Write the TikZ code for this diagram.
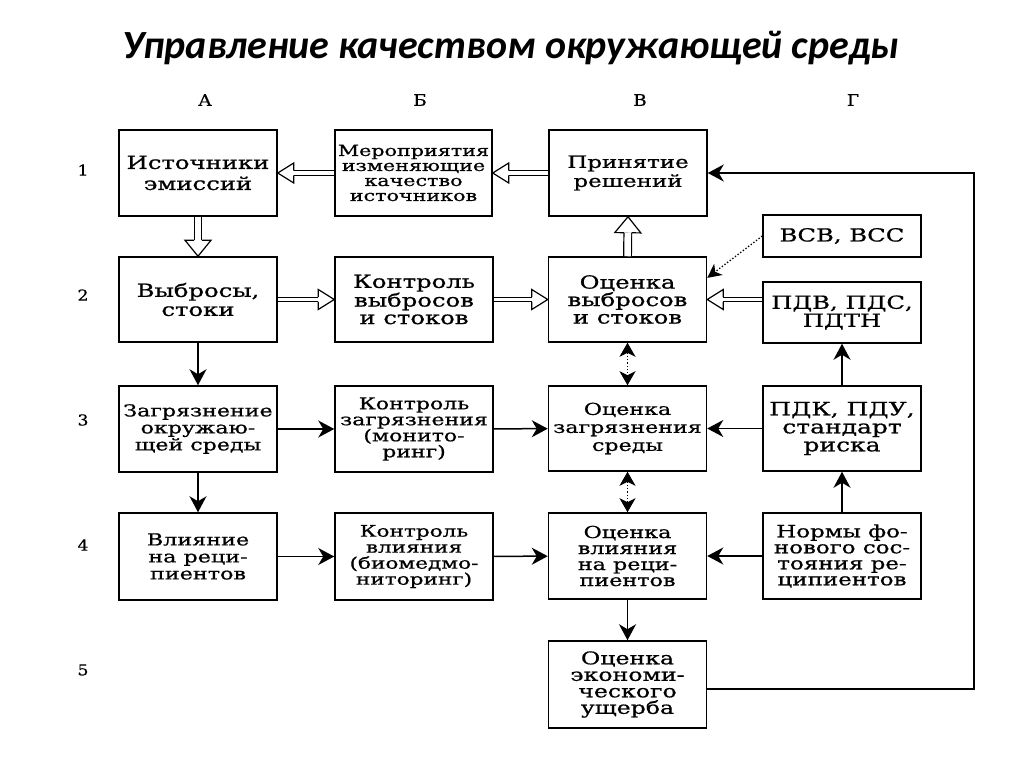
\documentclass[tikz,border=0pt]{standalone}
\usepackage{fontspec}
\newfontfamily\boxfont[FakeStretch=1.35,FakeBold=0.8]{DejaVu Serif}
\newfontfamily\lblfont[FakeStretch=1.15,FakeBold=0.5]{DejaVu Serif}
\newfontfamily\titlefont{Carlito}
\usetikzlibrary{arrows.meta,calc}
\newcommand\hollow[5]{%
  \coordinate (hT) at (#2);
  \coordinate (hB) at ($(hT)!16pt!(#1)$);
  \draw[hshaft, double distance=#3] (#1) -- (hB);
  \draw[hhead] ($(hB)!#4!90:(hT)$) -- ($(hB)!#5!90:(hT)$) -- (hT)
     -- ($(hB)!#5!-90:(hT)$) -- ($(hB)!#4!-90:(hT)$);}
\begin{document}
\begin{tikzpicture}[x=1pt,y=-1pt,
  box/.style={draw, line width=1.5pt, minimum width=158pt, minimum height=86pt,
    align=center, inner sep=1pt, font=\boxfont\fontsize{17}{17}\selectfont},
  hshaft/.style={line width=1.2pt, double},
  hhead/.style={line width=1.2pt, line join=miter},
  sarr/.style={line width=1.5pt, -{Stealth[length=16pt,width=17pt,inset=5pt]}},
  darr/.style={line width=1.3pt, dotted, {Stealth[length=14pt,width=16pt,inset=4pt]}-{Stealth[length=14pt,width=16pt,inset=4pt]}},
  dotarr/.style={line width=1.3pt, dotted, -{Stealth[length=14pt,width=14pt,inset=4pt]}},
  hdr/.style={font=\lblfont\fontsize{16}{16}\selectfont},
  num/.style={font=\lblfont\fontsize{15}{15}\selectfont}]
\useasboundingbox[fill=white] (0,0) rectangle (1024,767);

\node[font=\titlefont\bfseries\itshape\fontsize{40}{40}\selectfont] (title) at (511,48) {Управление качеством окружающей среды};

\node[hdr] (hA) at (205,100) {А};
\node[hdr] (hB0) at (420,100) {Б};
\node[hdr] (hV) at (640,100) {В};
\node[hdr] (hG) at (853,100) {Г};

\node[num] (n1) at (83,170) {1};
\node[num] (n2) at (83,295) {2};
\node[num] (n3) at (83,420) {3};
\node[num] (n4) at (83,545) {4};
\node[num] (n5) at (83,670) {5};

% row 1
\node[box, font=\boxfont\fontsize{18}{21}\selectfont] (A1) at (198,173) {Источники\\эмиссий};
\node[box, minimum width=157pt, font=\boxfont\fontsize{15.3}{15}\selectfont] (B1) at (413.5,173) {Мероприятия\\изменяющие\\качество\\источников};
\node[box, font=\boxfont\fontsize{17}{19}\selectfont] (V1) at (628,173) {Принятие\\решений};
\node[box, minimum height=42pt, font=\boxfont\fontsize{18}{18}\selectfont] (G1) at (842,236) {ВСВ, ВСС};

% row 2
\node[box, minimum height=85pt, font=\boxfont\fontsize{18}{19}\selectfont] (A2) at (198,299.5) {Выбросы,\\стоки};
\node[box, minimum height=85pt, font=\boxfont\fontsize{18}{17.5}\selectfont] (B2) at (414,299.5) {Контроль\\выбросов\\и стоков};
\node[box, minimum height=85pt, font=\boxfont\fontsize{18}{17.5}\selectfont] (V2) at (627.5,299.5) {Оценка\\выбросов\\и стоков};
\node[box, minimum height=61pt, font=\boxfont\fontsize{18}{18}\selectfont] (G2) at (842,312.5) {ПДВ, ПДС,\\ПДТН};

% row 3
\node[box, font=\boxfont\fontsize{16.4}{17}\selectfont] (A3) at (198,429) {Загрязнение\\окружаю-\\щей среды};
\node[box, font=\boxfont\fontsize{16.3}{16}\selectfont] (B3) at (414,429) {Контроль\\загрязнения\\(монито-\\ринг)};
\node[box, minimum height=85pt, font=\boxfont\fontsize{16.4}{18}\selectfont] (V3) at (627.5,428.5) {Оценка\\загрязнения\\среды};
\node[box, minimum height=85pt, font=\boxfont\fontsize{18.5}{18}\selectfont] (G3) at (842,428.5) {ПДК, ПДУ,\\стандарт\\риска};

% row 4
\node[box, minimum height=87pt, font=\boxfont\fontsize{16.5}{17}\selectfont] (A4) at (198,556.5) {Влияние\\на реци-\\пиентов};
\node[box, minimum height=87pt, font=\boxfont\fontsize{16}{16}\selectfont] (B4) at (414,556.5) {Контроль\\влияния\\(биомедмо-\\ниторинг)};
\node[box, font=\boxfont\fontsize{16.5}{16}\selectfont] (V4) at (627.5,556) {Оценка\\влияния\\на реци-\\пиентов};
\node[box, font=\boxfont\fontsize{17}{16}\selectfont] (G4) at (842,556) {Нормы фо-\\нового сос-\\тояния ре-\\ципиентов};

% row 5
\node[box, minimum height=87pt, font=\boxfont\fontsize{17.5}{16.5}\selectfont] (V5) at (627.5,684.5) {Оценка\\экономи-\\ческого\\ущерба};

\coordinate (fb) at (974,689);
\coordinate (g2w) at (G2.west |- V2.east);
\coordinate (v2d) at ($(V2.north east)!0.25!(V2.south east)$);

% hollow arrows
\hollow{A1.south}{A2.north}{6.5pt}{3.85pt}{13pt}
\hollow{B1.west}{A1.east}{3.5pt}{2.35pt}{10pt}
\hollow{V1.west}{B1.east}{3.5pt}{2.35pt}{10pt}
\hollow{A2.east}{B2.west}{3.5pt}{2.35pt}{10pt}
\hollow{B2.east}{V2.west}{3.5pt}{2.35pt}{10pt}
\hollow{V2.north}{V1.south}{6.5pt}{3.85pt}{13pt}
\hollow{g2w}{V2.east}{3.5pt}{2.35pt}{10pt}

% solid arrows
\draw[sarr] (A2) -- (A3);
\draw[sarr] (A3) -- (A4);
\draw[sarr] (A3) -- (B3);
\draw[sarr] (B3) -- (V3);
\draw[sarr] (A4) -- (B4);
\draw[sarr] (B4) -- (V4);
\draw[sarr] (G3) -- (V3);
\draw[sarr] (G4) -- (V4);
\draw[sarr] (G3) -- (G2);
\draw[sarr] (G4) -- (G3);
\draw[sarr] (V4) -- (V5);
\draw[sarr] (V5.east |- fb) -- (fb) |- (V1.east);

% dotted arrows
\draw[darr] (V2) -- (V3);
\draw[darr] (V3) -- (V4);
\draw[dotarr] (G1.west) -- (v2d);
\end{tikzpicture}
\end{document}
